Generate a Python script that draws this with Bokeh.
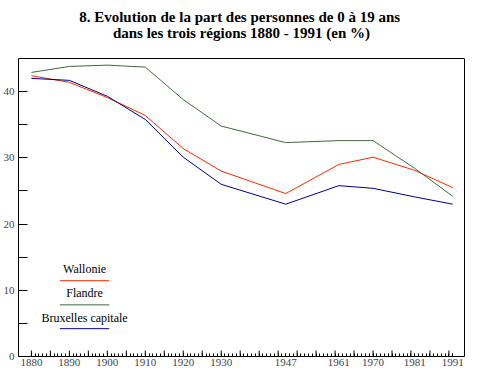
from bokeh.plotting import figure
from bokeh.models import Range1d, LinearAxis, FixedTicker, Label, Span
from bokeh.embed import file_html
from bokeh.resources import INLINE

# ---- data ----
years = [1880, 1890, 1900, 1910, 1920, 1930, 1947, 1961, 1970, 1981, 1991]
wallonie = [42.4, 41.4, 39.1, 36.4, 31.4, 28.0, 24.6, 29.0, 30.1, 28.1, 25.5]
flandre = [42.9, 43.8, 44.0, 43.7, 38.8, 34.8, 32.3, 32.6, 32.6, 28.4, 24.2]
bruxelles = [42.0, 41.7, 39.3, 35.8, 30.1, 26.0, 23.0, 25.8, 25.4, 24.1, 23.0]
series_names = ["Wallonie", "Flandre", "Bruxelles capitale"]
x_tick_labels = ["1880", "1890", "1900", "1910", "1920", "1930", "1947", "1961", "1970", "1981", "1991"]
y_ticks = [0, 10, 20, 30, 40]
y_minor_ticks = [5, 15, 25, 35]
x_major_ticks = list(range(1880, 1991, 5))
x_minor_ticks = list(range(1880, 1992))
title_lines = ["8.  Evolution de la part des personnes de 0 à 19 ans",
               "dans les trois régions 1880 - 1991 (en %)"]

# ---- styles / layout ----
COLORS = ["#ff2a00", "#3f6b3f", "#000080"]
SERIF = "Liberation Serif, Times New Roman, Times, serif"
X_START, X_END = 1876.6, 1994.1
Y_BOX_TOP = 45          # top edge of the drawn box
Y_VIEW_TOP = 53.76      # view extends above the box to hold the title
TITLE_Y = [51.34, 48.78]
LEGEND_X = (1887.5, 1900.5)
LEGEND_LINE_Y = [11.45, 7.8, 4.2]
LEGEND_TEXT_Y = [13.2, 9.65, 5.85]

p = figure(width=465, height=372, output_backend="svg", toolbar_location=None,
           title=None, x_range=Range1d(X_START, X_END), y_range=Range1d(0, Y_VIEW_TOP),
           x_axis_type=None, y_axis_type=None,
           min_border_left=17, min_border_right=1, min_border_top=0, min_border_bottom=16)
p.outline_line_color = None
p.background_fill_color = "white"
p.border_fill_color = "white"

yaxis = LinearAxis(ticker=FixedTicker(ticks=y_ticks, minor_ticks=y_minor_ticks),
                   bounds=(0, Y_BOX_TOP),
                   major_tick_in=9, major_tick_out=0, minor_tick_in=9, minor_tick_out=0,
                   major_label_standoff=4, major_label_text_font=SERIF,
                   major_label_text_font_size="11px", axis_line_color="black")
p.add_layout(yaxis, "left")

right_edge = LinearAxis(ticker=FixedTicker(ticks=[], minor_ticks=[]), bounds=(0, Y_BOX_TOP),
                        major_tick_in=0, major_tick_out=0, minor_tick_in=0, minor_tick_out=0,
                        major_label_standoff=0, axis_line_color="black")
p.add_layout(right_edge, "right")

xaxis = LinearAxis(ticker=FixedTicker(ticks=years, minor_ticks=x_minor_ticks),
                   major_tick_in=3, major_tick_out=0, minor_tick_in=3, minor_tick_out=0,
                   axis_line_color="black", major_label_standoff=2,
                   major_label_overrides={y: s for y, s in zip(years, x_tick_labels)},
                   major_label_text_font=SERIF, major_label_text_font_size="11px")
p.add_layout(xaxis, "below")

p.add_layout(Span(location=Y_BOX_TOP, dimension="width", line_color="black", line_width=1))

# taller ticks every 5 years (vertical dash markers centred on the axis, clipped by the frame)
p.scatter(x_major_ticks, [0] * len(x_major_ticks), marker="dash", angle=1.5708,
          size=12, line_color="black", line_width=1)

# two-line title, each line centred over the box
x_mid = (X_START + X_END) / 2
for line, ty in zip(title_lines, TITLE_Y):
    p.add_layout(Label(x=x_mid, y=ty, text=line, text_align="center",
                       text_baseline="alphabetic", text_font=SERIF,
                       text_font_size="15px", text_font_style="bold", text_color="black"))

for vals, color in zip([wallonie, flandre, bruxelles], COLORS):
    p.line(years, vals, line_color=color, line_width=1)

for name, color, ly, ty in zip(series_names, COLORS, LEGEND_LINE_Y, LEGEND_TEXT_Y):
    p.segment(x0=[LEGEND_X[0]], y0=[ly], x1=[LEGEND_X[1]], y1=[ly], line_color=color, line_width=1)
    p.add_layout(Label(x=(LEGEND_X[0] + LEGEND_X[1]) / 2, y=ty, text=name, text_align="center",
                       text_baseline="middle", text_font=SERIF, text_font_size="12px",
                       text_color="black"))

open("out.html", "w").write(file_html(p, INLINE))
